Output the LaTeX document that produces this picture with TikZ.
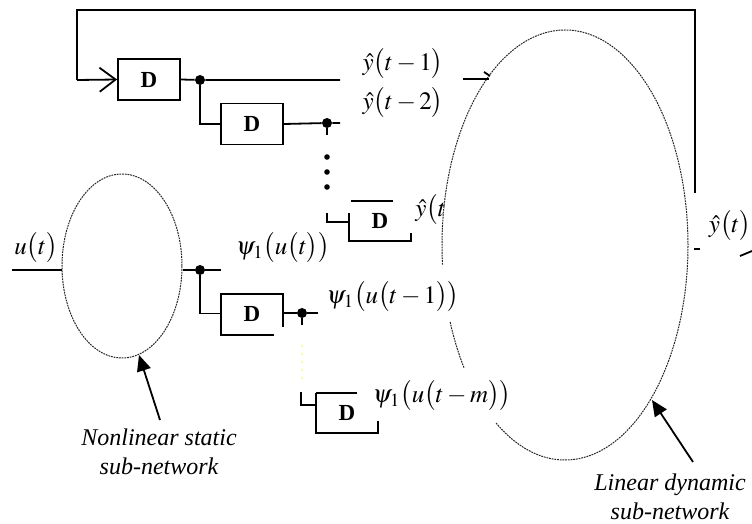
\documentclass[tikz,border=0pt]{standalone}
\usepackage{mathptmx}
\usepackage{fontspec}
\setmainfont{Liberation Serif}
\usetikzlibrary{arrows.meta,shapes.geometric}
\begin{document}
\begin{tikzpicture}[x=0.5pt,y=-0.5pt,
  wire/.style={line width=0.9pt},
  dbox/.style={minimum width=31pt,minimum height=20.5pt,inner sep=0pt,font=\fontsize{11.5}{13}\selectfont\bfseries},
  dboxdrawn/.style={dbox,draw,line width=0.9pt},
  jdot/.style={circle,fill,inner sep=0pt,minimum size=5pt},
  vdot/.style={circle,fill,inner sep=0pt,minimum size=2.8pt},
  lbl/.style={font=\fontsize{12.5}{15}\selectfont,inner sep=0pt},
  net/.style={dash pattern=on 0.9pt off 0.45pt,line width=0.5pt,draw=black!85},
  capt/.style={font=\fontsize{12}{14.5}\selectfont\itshape,align=center,inner sep=0pt},
  ptr/.style={line width=0.9pt,-{Triangle[length=8pt,width=7pt]}},
  barb/.style={line width=0.9pt,-{Straight Barb[length=8pt,width=12pt]}}
]
\useasboundingbox (0,0) rectangle (752,524);

% ---------- big ellipse (linear dynamic sub-network), with gaps ----------
\coordinate (bc) at (565,245);
\draw[net] (bc) ++(235.9:61.5pt and 107.5pt) arc[start angle=235.9,end angle=545.3,x radius=61.5pt,y radius=107.5pt];
\draw[net] (bc) ++(201:61.5pt and 107.5pt) arc[start angle=201,end angle=214.9,x radius=61.5pt,y radius=107.5pt];

% ---------- small ellipse (nonlinear static sub-network) ----------
\node[ellipse,net,draw,minimum width=60pt,minimum height=92pt,inner sep=0pt] (se) at (122,266) {};

% ---------- delay boxes ----------
\node[dboxdrawn] (b1) at (149,79.5) {D};
\node[dboxdrawn] (b2) at (252,124) {D};
\node[dbox] (b3) at (380,221) {D};
\node[dbox] (b4) at (252,313.5) {D};
\node[dbox] (b5) at (347,413) {D};

% partial outlines of boxes 3, 4, 5
\draw[wire] (351,201) -- (393,201);
\draw[wire] (411,233) -- (411,241) -- (349,241) -- (349,213);
\draw[wire] (274,335) -- (221,335) -- (221,294) -- (283,294) -- (283,327);
\draw[wire] (316,393) -- (357,393);
\draw[wire] (378,421) -- (378,433) -- (316,433) -- (316,393);

% ---------- junction dots and coordinates ----------
\node[jdot] (d1) at (200,80) {};
\node[jdot] (d2) at (327,123) {};
\node[jdot] (d3) at (200,270) {};
\node[jdot] (d4) at (302,313) {};
\node[vdot] (v1) at (327,157) {};
\node[vdot] (v2) at (327,172) {};
\node[vdot] (v3) at (327,187) {};

\coordinate (fbA) at (695,193);
\coordinate (fbB) at (695,10);
\coordinate (fbC) at (77,10);
\coordinate (fbD) at (77,80);
\coordinate (y1e) at (340,80);
\coordinate (y2e) at (327,135);
\coordinate (y2r) at (340,123);
\coordinate (l1a) at (327,213);
\coordinate (l1b) at (327,222);
\coordinate (l1c) at (349,222);
\coordinate (uin) at (12,270);
\coordinate (ps0) at (221,270);
\coordinate (ps1) at (318,313);
\coordinate (ps1d) at (302,325);
\coordinate (l2a) at (301,392);
\coordinate (l2b) at (301,405);
\coordinate (l2c) at (316,405);
\coordinate (inA) at (463,79);
\coordinate (inB) at (489,79);
\coordinate (outA) at (694,249);
\coordinate (outB) at (700,249);
\coordinate (outC) at (740,256);
\coordinate (outD) at (752,251);

% ---------- feedback loop ----------
\draw[wire] (fbA) -- (fbB) -- (fbC) -- (fbD);
\draw[barb] (fbD) -- (b1.west);

% ---------- output delay line ----------
\draw[wire] (b1.east) -- (d1) -- (y1e);
\draw[wire] (d1) |- (b2.west);
\draw[wire] (b2.east) -- (d2) -- (y2r);
\draw[wire] (d2) -- (y2e);
\draw[wire] (l1a) -- (l1b) -- (l1c);

% ---------- input side ----------
\draw[wire] (uin) -- (se.west |- uin);
\draw[wire] (se.east |- d3) -- (d3) -- (ps0);
\draw[wire] (d3) |- (b4.west);
\draw[wire] (283,313) -- (d4) -- (ps1);
\draw[wire] (d4) -- (ps1d);
\draw[line width=0.6pt,draw=yellow!35,dash pattern=on 1pt off 3pt] (302,345) -- (302,384);
\draw[wire] (l2a) -- (l2b) -- (l2c);

% ---------- fragments at the big ellipse ----------
\draw[wire] (inA) -- (inB);
\draw[wire] (484,72) -- (490,76);
\draw[wire] (outA) -- (outB);
\draw[wire] (outC) -- (outD);

% ---------- labels ----------
\node[lbl] (ly1) at (403,64) {$\hat{y}\bigl(t-1\bigr)$};
\node[lbl] (ly2) at (403,103) {$\hat{y}\bigl(t-2\bigr)$};
\node[lbl,anchor=west] (lyn) at (415,210) {$\hat{y}\bigl(t$};
\node[lbl] (ly) at (730,226) {$\hat{y}\bigl(t\bigr)$};
\node[lbl] (lu) at (36,248) {$u\bigl(t\bigr)$};
\node[lbl] (lp0) at (283,248) {$\psi_1\bigl(u\bigl(t\bigr)\bigr)$};
\node[lbl] (lp1) at (393,297) {$\psi_1\bigl(u\bigl(t-1\bigr)\bigr)$};
\node[lbl] (lpm) at (442,396) {$\psi_1\bigl(u\bigl(t-m\bigr)\bigr)$};

% ---------- captions and pointers ----------
\node[capt] (cn) at (159,452) {Nonlinear static\\sub-network};
\node[capt] (cl) at (670,497) {Linear dynamic\\sub-network};
\coordinate (pn) at (139,355);
\coordinate (pl) at (652,400);
\draw[ptr] (160,420) -- (pn);
\draw[ptr] (693,462) -- (pl);
\end{tikzpicture}
\end{document}
